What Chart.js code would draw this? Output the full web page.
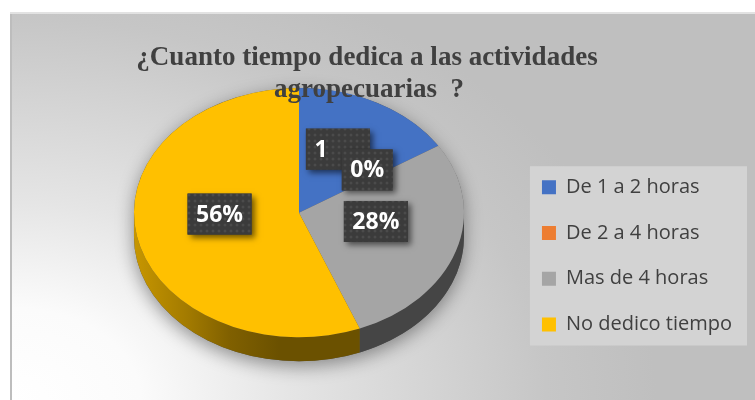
<!DOCTYPE html>
<html>
<head>
<meta charset="utf-8">
<script src="https://cdn.jsdelivr.net/npm/chart.js@4.4.1/dist/chart.umd.min.js"></script>
<style>
  html, body { margin: 0; padding: 0; background: #fff; }
</style>
</head>
<body>
<canvas id="pieChart" width="755" height="400"></canvas>
<script>
// chart data
const titleLines = ['¿Cuanto tiempo dedica a las actividades', 'agropecuarias  ?'];
const categories = ['De 1 a 2 horas', 'De 2 a 4 horas', 'Mas de 4 horas', 'No dedico tiempo'];
const percents = [16, 0, 28, 56];
const labelTexts = ['1', '0%', '28%', '56%'];   // as printed on the chart (first label is cut off)

const sliceColors = ['#4472c4', '#ed7d31', '#a5a5a5', '#ffc000'];

// look of the fake 3d pie
const TILT = 0.755;       // vertical squash of the pie top
const DEPTH = 24;         // thickness of the side wall, px
const LABEL_POS = 0.49;   // label distance from centre, share of radius
const LABEL_SHIFT = -10;

function shade(hex, f) {
    const n = parseInt(hex.slice(1), 16);
    const r = Math.round(((n >> 16) & 255) * f);
    const g = Math.round(((n >> 8) & 255) * f);
    const b = Math.round((n & 255) * f);
    return `rgb(${r},${g},${b})`;
}

// dotted texture of the data label boxes
const patCanvas = document.createElement('canvas');
patCanvas.width = patCanvas.height = 6;
const pctx = patCanvas.getContext('2d');
pctx.fillStyle = '#3b3b3b';
pctx.fillRect(0, 0, 6, 6);
pctx.fillStyle = '#4b4b4b';
pctx.beginPath();
pctx.arc(3, 3, 1.5, 0, Math.PI * 2);
pctx.fill();
const dotPattern = pctx.createPattern(patCanvas, 'repeat');

const backdrop = {
    id: 'backdrop',
    beforeDraw(chart) {
        const ctx = chart.ctx;
        const W = chart.width, H = chart.height;
        ctx.save();
        ctx.fillStyle = '#fff';
        ctx.fillRect(0, 0, W, H);
        ctx.translate(12, H);
        ctx.scale(1.4, 1);
        const g = ctx.createRadialGradient(0, 0, 0, 0, 0, 460);
        g.addColorStop(0, '#ffffff');
        g.addColorStop(0.2, '#fbfbfb');
        g.addColorStop(0.43, '#e5e5e5');
        g.addColorStop(0.65, '#d4d4d4');
        g.addColorStop(0.83, '#c6c6c6');
        g.addColorStop(1, '#bfbfbf');
        ctx.fillStyle = g;
        ctx.fillRect(0, -(H - 14), (W - 12) / 1.4, H - 14);
        ctx.restore();

        ctx.fillStyle = '#bdbdbd';
        ctx.fillRect(10, 14, 2, H - 14);
        ctx.fillStyle = '#e2e2e2';
        ctx.fillRect(10, 12, W - 10, 2);

        // legend panel
        const hb = chart.legend.legendHitBoxes;
        if (hb && hb.length) {
            const left = Math.min(...hb.map(b => b.left)) - 12;
            const right = Math.max(...hb.map(b => b.left + b.width)) + 15;
            const top = hb[0].top - 11;
            const bottom = hb[hb.length - 1].top + hb[hb.length - 1].height + 11;
            ctx.fillStyle = '#d3d3d3';
            ctx.fillRect(left, top, right - left, bottom - top);
        }
    },
    afterDraw(chart) {
        const ctx = chart.ctx;
        ctx.save();
        ctx.font = 'bold 27px "Liberation Serif"';
        ctx.fillStyle = '#404040';
        ctx.textAlign = 'center';
        ctx.textBaseline = 'alphabetic';
        ctx.fillText(titleLines[0], 367, 65);
        ctx.fillText(titleLines[1], 369, 97);
        ctx.restore();
    }
};

const pie3d = {
    id: 'pie3d',
    beforeDatasetsDraw(chart) {
        const ctx = chart.ctx;
        const arcs = chart.getDatasetMeta(0).data;
        const { x, y, outerRadius: r } = arcs[0];
        ctx.save();
        ctx.translate(x, y);
        ctx.scale(1, TILT);
        ctx.translate(-x, -y);
        const d = DEPTH / TILT;

        // soft shadow under the whole pie
        ctx.save();
        ctx.shadowColor = 'rgba(0,0,0,0.4)';
        ctx.shadowBlur = 18;
        ctx.shadowOffsetY = 5;
        ctx.beginPath();
        ctx.arc(x, y, r, Math.PI, 2 * Math.PI);
        ctx.arc(x, y + d, r, 0, Math.PI);
        ctx.closePath();
        ctx.fillStyle = '#505050';
        ctx.fill();
        ctx.restore();

        // side wall, only the front half is visible
        arcs.forEach((arc, i) => {
            const s = Math.max(arc.startAngle, 0);
            const e = Math.min(arc.endAngle, Math.PI);
            if (e <= s) return;
            const g = ctx.createLinearGradient(x - r, 0, x, 0);
            [[0, .78], [.32, .64], [.58, .5], [.88, .42], [1, .42]]
                .forEach(([t, f]) => g.addColorStop(t, shade(sliceColors[i], f)));
            ctx.beginPath();
            ctx.arc(x, y, r, s, e);
            ctx.arc(x, y + d, r, e, s, true);
            ctx.closePath();
            ctx.fillStyle = g;
            ctx.fill();
        });
    },
    afterDatasetsDraw(chart) {
        const ctx = chart.ctx;
        ctx.restore();

        const arcs = chart.getDatasetMeta(0).data;
        ctx.save();
        ctx.font = 'bold 23px "Open Sans"';
        arcs.forEach((arc, i) => {
            const mid = (arc.startAngle + arc.endAngle) / 2;
            const rr = arc.outerRadius * LABEL_POS;
            const lx = arc.x + Math.cos(mid) * rr;
            const ly = arc.y + Math.sin(mid) * rr * TILT + LABEL_SHIFT;
            const w = ctx.measureText(percents[i] + '%').width + 17;
            const h = 41;
            const bx = lx - w / 2, by = ly - h / 2;
            ctx.save();
            ctx.shadowColor = 'rgba(0,0,0,0.55)';
            ctx.shadowBlur = 6;
            ctx.shadowOffsetX = 3;
            ctx.shadowOffsetY = 3;
            ctx.fillStyle = '#3b3b3b';
            ctx.fillRect(bx, by, w, h);
            ctx.restore();
            ctx.fillStyle = dotPattern;
            ctx.fillRect(bx, by, w, h);
            ctx.fillStyle = '#fff';
            ctx.textAlign = 'left';
            ctx.textBaseline = 'middle';
            ctx.fillText(labelTexts[i], bx + 8.5, ly + 1);
        });
        ctx.restore();
    }
};

new Chart(document.getElementById('pieChart'), {
    type: 'pie',
    data: {
        labels: categories,
        datasets: [{
            data: percents,
            backgroundColor: sliceColors,
            borderWidth: 0,
            radius: 165,
            clip: false
        }]
    },
    options: {
        responsive: false,
        animation: false,
        // quarter-pixel values keep the legend column sums exact
        layout: { padding: { top: 65, bottom: 39.75, left: 81.75, right: 13 } },
        plugins: {
            title: { display: false },
            tooltip: { enabled: false },
            legend: {
                position: 'right',
                align: 'end',
                labels: {
                    boxWidth: 14,
                    boxHeight: 14,
                    padding: 25.75,
                    color: '#404040',
                    font: { family: 'Open Sans', size: 20 }
                }
            }
        }
    },
    plugins: [backdrop, pie3d]
});
</script>
</body>
</html>
